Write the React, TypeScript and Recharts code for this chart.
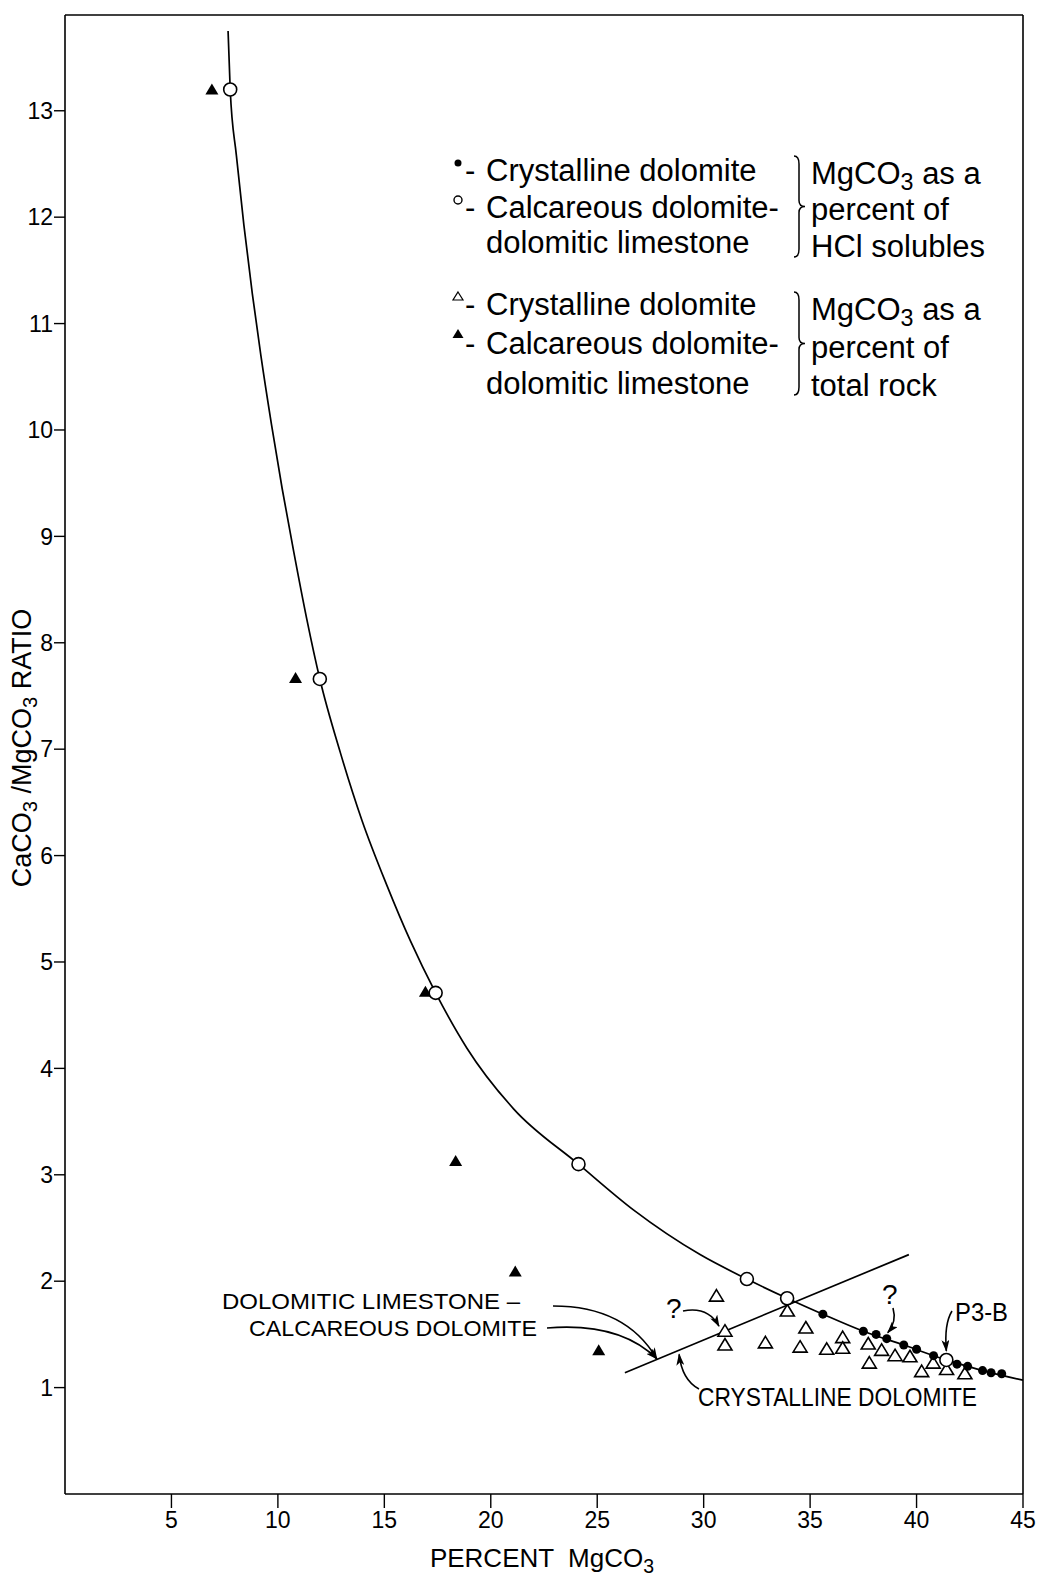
import React from 'react';
import { ComposedChart, Line, Scatter, XAxis, YAxis, ReferenceLine, Customized } from 'recharts';

// axis ticks
const xTicks = [5, 10, 15, 20, 25, 30, 35, 40, 45];
const yTicks = [1, 2, 3, 4, 5, 6, 7, 8, 9, 10, 11, 12, 13];

// MgCO3 as percent of HCl solubles
const hclCrystalline = [
  { x: 35.6, y: 1.69 }, { x: 37.5, y: 1.53 }, { x: 38.1, y: 1.5 }, { x: 38.6, y: 1.46 },
  { x: 39.4, y: 1.4 }, { x: 40.0, y: 1.36 }, { x: 40.8, y: 1.3 }, { x: 41.9, y: 1.22 },
  { x: 42.4, y: 1.2 }, { x: 43.1, y: 1.16 }, { x: 43.5, y: 1.14 }, { x: 44.0, y: 1.13 },
];
const hclCalcareous = [
  { x: 7.76, y: 13.2 }, { x: 11.97, y: 7.66 }, { x: 17.41, y: 4.71 }, { x: 24.12, y: 3.1 },
  { x: 32.03, y: 2.02 }, { x: 33.92, y: 1.84 }, { x: 41.4, y: 1.26 },
];

// MgCO3 as percent of total rock
const rockCrystalline = [
  { x: 30.6, y: 1.86 }, { x: 31.0, y: 1.53 }, { x: 31.0, y: 1.4 }, { x: 32.9, y: 1.42 },
  { x: 33.93, y: 1.72 }, { x: 34.8, y: 1.56 }, { x: 34.53, y: 1.38 }, { x: 35.78, y: 1.36 },
  { x: 36.53, y: 1.47 }, { x: 36.53, y: 1.37 }, { x: 37.73, y: 1.41 }, { x: 37.78, y: 1.23 },
  { x: 38.36, y: 1.35 }, { x: 38.99, y: 1.3 }, { x: 39.69, y: 1.29 }, { x: 40.24, y: 1.15 },
  { x: 40.78, y: 1.23 }, { x: 41.41, y: 1.17 }, { x: 42.27, y: 1.13 },
];
const rockCalcareous = [
  { x: 6.9, y: 13.2 }, { x: 10.83, y: 7.67 }, { x: 16.93, y: 4.72 },
  { x: 18.35, y: 3.13 }, { x: 21.15, y: 2.09 }, { x: 25.07, y: 1.35 },
];

// hand-drawn curve and the dividing line
const curve = [
  { x: 7.66, y: 13.75 }, { x: 7.76, y: 13.2 }, { x: 8.05, y: 12.58 }, { x: 8.4, y: 11.93 },
  { x: 8.8, y: 11.28 }, { x: 9.2, y: 10.7 }, { x: 9.7, y: 10.05 }, { x: 10.2, y: 9.45 },
  { x: 10.75, y: 8.85 }, { x: 11.35, y: 8.23 }, { x: 11.97, y: 7.66 }, { x: 12.93, y: 6.97 },
  { x: 13.95, y: 6.33 }, { x: 15.12, y: 5.72 }, { x: 16.22, y: 5.2 }, { x: 17.41, y: 4.71 },
  { x: 18.88, y: 4.19 }, { x: 21.07, y: 3.62 }, { x: 24.12, y: 3.1 }, { x: 26.7, y: 2.67 },
  { x: 29.83, y: 2.25 }, { x: 32.03, y: 2.02 }, { x: 33.92, y: 1.84 }, { x: 35.6, y: 1.69 },
  { x: 37.5, y: 1.53 }, { x: 39.4, y: 1.4 }, { x: 41.4, y: 1.26 }, { x: 43.1, y: 1.16 },
  { x: 45, y: 1.07 },
];
const divider = [{ x: 26.3, y: 1.14 }, { x: 39.64, y: 2.25 }];

const W = 1039;
const H = 1580;
const MARGIN = { top: 15, right: 16, left: 0, bottom: 0 };
const Y_AXIS_W = 65;
const X_AXIS_H = 86;
const X_MAX = 45;
const Y_MAX = 13.9;

const plotL = MARGIN.left + Y_AXIS_W;
const plotR = W - MARGIN.right;
const plotT = MARGIN.top;
const plotB = H - MARGIN.bottom - X_AXIS_H;
const px = (v: number) => plotL + (v / X_MAX) * (plotR - plotL);
const py = (v: number) => plotB - (v / Y_MAX) * (plotB - plotT);

const SANS = 'Liberation Sans, Arial, sans-serif';

const Dot = ({ cx, cy }: any) => <circle cx={cx} cy={cy} r={4.5} fill="#000" />;
const OpenCircle = ({ cx, cy }: any) => (
  <circle cx={cx} cy={cy} r={6.5} fill="#fff" stroke="#000" strokeWidth={1.6} />
);
const OpenTri = ({ cx, cy }: any) => (
  <polygon
    points={`${cx},${cy - 6.5} ${cx + 7},${cy + 5} ${cx - 7},${cy + 5}`}
    fill="#fff"
    stroke="#000"
    strokeWidth={1.6}
  />
);
const FilledTri = ({ cx, cy }: any) => (
  <polygon points={`${cx},${cy - 6} ${cx + 6.5},${cy + 5} ${cx - 6.5},${cy + 5}`} fill="#000" />
);

const Brace = ({ x, y1, y2 }: { x: number; y1: number; y2: number }) => {
  const m = (y1 + y2) / 2;
  const d = `M${x},${y1} Q${x + 5},${y1} ${x + 5},${y1 + 8} L${x + 5},${m - 6} Q${x + 5},${m} ${x + 11},${m} Q${x + 5},${m} ${x + 5},${m + 6} L${x + 5},${y2 - 8} Q${x + 5},${y2} ${x},${y2}`;
  return <path d={d} fill="none" stroke="#000" strokeWidth={1.5} />;
};

const Arrow = ({ from, ctrl, to }: { from: number[]; ctrl: number[]; to: number[] }) => (
  <path
    d={`M${from[0]},${from[1]} Q${ctrl[0]},${ctrl[1]} ${to[0]},${to[1]}`}
    fill="none"
    stroke="#000"
    strokeWidth={1.6}
    markerEnd="url(#arrowHead)"
  />
);

const Sub = ({ children }: { children: string }) => (
  <tspan dy={6} fontSize="75%">{children}</tspan>
);

const Overlay = () => {
  const lineTarget = [px(27.8), py(1.27)];
  const triTarget = [px(31.0) - 6, py(1.53) - 5];
  const dotTarget = [px(38.6) + 1, py(1.46) - 6];
  const p3bTarget = [px(41.4), py(1.26) - 9];
  const crysTarget = [px(28.8) + 1, py(1.35) + 4];
  return (
    <g>
      <defs>
        <marker id="arrowHead" viewBox="0 0 12 8" refX="11" refY="4" markerWidth="12" markerHeight="8" markerUnits="userSpaceOnUse" orient="auto">
          <path d="M0,0 L12,4 L0,8 L3,4 Z" fill="#000" />
        </marker>
      </defs>

      {/* legend, HCl solubles */}
      <g fontFamily={SANS} fontSize={31} fill="#000">
        <circle cx={458} cy={163} r={3.5} fill="#000" />
        <text x={465} y={181}>-</text>
        <text x={486} y={181}>Crystalline dolomite</text>
        <circle cx={458} cy={200} r={4} fill="#fff" stroke="#000" strokeWidth={1.4} />
        <text x={465} y={218}>-</text>
        <text x={486} y={218}>Calcareous dolomite-</text>
        <text x={486} y={253}>dolomitic limestone</text>
        <Brace x={794} y1={156} y2={257} />
        <text x={811} y={184}>MgCO<Sub>3</Sub><tspan dy={-6}> as a</tspan></text>
        <text x={811} y={220}>percent of</text>
        <text x={811} y={257}>HCl solubles</text>

        {/* legend, total rock */}
        <polygon points="458,292 463,300 453,300" fill="#fff" stroke="#000" strokeWidth={1.2} />
        <text x={465} y={315}>-</text>
        <text x={486} y={315}>Crystalline dolomite</text>
        <polygon points="458,329 463.5,338 452.5,338" fill="#000" />
        <text x={465} y={354}>-</text>
        <text x={486} y={354}>Calcareous dolomite-</text>
        <text x={486} y={394}>dolomitic limestone</text>
        <Brace x={794} y1={292} y2={395} />
        <text x={811} y={320}>MgCO<Sub>3</Sub><tspan dy={-6}> as a</tspan></text>
        <text x={811} y={358}>percent of</text>
        <text x={811} y={396}>total rock</text>
      </g>

      {/* annotations */}
      <g fontFamily={SANS} fontSize={22} fill="#000">
        <text x={222} y={1309} textLength={298} lengthAdjust="spacingAndGlyphs">DOLOMITIC LIMESTONE –</text>
        <text x={249} y={1336} textLength={288} lengthAdjust="spacingAndGlyphs">CALCAREOUS DOLOMITE</text>
        <text x={666} y={1318} fontSize={28}>?</text>
        <text x={882} y={1304} fontSize={28}>?</text>
        <text x={955} y={1321} fontSize={25} textLength={53} lengthAdjust="spacingAndGlyphs">P3-B</text>
        <text x={698} y={1406} fontSize={25} textLength={279} lengthAdjust="spacingAndGlyphs">CRYSTALLINE DOLOMITE</text>
      </g>
      <Arrow from={[553, 1306]} ctrl={[626, 1306]} to={lineTarget} />
      <Arrow from={[547, 1328]} ctrl={[620, 1322]} to={lineTarget} />
      <Arrow from={[683, 1311]} ctrl={[708, 1306]} to={triTarget} />
      <Arrow from={[893, 1308]} ctrl={[897, 1322]} to={dotTarget} />
      <Arrow from={[952, 1311]} ctrl={[944, 1324]} to={p3bTarget} />
      <Arrow from={[699, 1389]} ctrl={[682, 1380]} to={crysTarget} />

      {/* axis titles */}
      <text transform="translate(31,748) rotate(-90)" textAnchor="middle" fontFamily={SANS} fontSize={27} fill="#000">
        CaCO<Sub>3</Sub><tspan dy={-6}> /MgCO</tspan><Sub>3</Sub><tspan dy={-6}>  RATIO</tspan>
      </text>
      <text x={542} y={1567} textAnchor="middle" fontFamily={SANS} fontSize={26} fill="#000" xmlSpace="preserve">
        PERCENT  MgCO<Sub>3</Sub>
      </text>
    </g>
  );
};

export default function App() {
  return (
    <div style={{ position: 'absolute', top: 0, left: 0 }}>
      <ComposedChart width={W} height={H} margin={MARGIN}>
        <XAxis
          type="number"
          dataKey="x"
          domain={[0, X_MAX]}
          ticks={xTicks}
          height={X_AXIS_H}
          tickSize={14}
          tickMargin={4}
          axisLine={{ stroke: '#000', strokeWidth: 1.6 }}
          tickLine={{ stroke: '#000', strokeWidth: 1.4 }}
          tick={{ fill: '#000', fontSize: 23, fontFamily: SANS }}
        />
        <YAxis
          type="number"
          dataKey="y"
          domain={[0, Y_MAX]}
          ticks={yTicks}
          width={Y_AXIS_W}
          tickSize={11}
          tickMargin={1}
          axisLine={{ stroke: '#000', strokeWidth: 1.6 }}
          tickLine={{ stroke: '#000', strokeWidth: 1.4 }}
          tick={{ fill: '#000', fontSize: 23, fontFamily: SANS }}
        />
        <ReferenceLine y={Y_MAX} stroke="#000" strokeWidth={1.6} />
        <ReferenceLine x={X_MAX} stroke="#000" strokeWidth={1.6} />
        <Line data={curve} dataKey="y" type="monotoneX" dot={false} stroke="#000" strokeWidth={1.7} isAnimationActive={false} />
        <Line data={divider} dataKey="y" type="linear" dot={false} stroke="#000" strokeWidth={1.7} isAnimationActive={false} />
        <Scatter data={rockCrystalline} shape={OpenTri} isAnimationActive={false} />
        <Scatter data={rockCalcareous} shape={FilledTri} isAnimationActive={false} />
        <Scatter data={hclCrystalline} shape={Dot} isAnimationActive={false} />
        <Scatter data={hclCalcareous} shape={OpenCircle} isAnimationActive={false} />
        <Customized component={Overlay} />
      </ComposedChart>
    </div>
  );
}
